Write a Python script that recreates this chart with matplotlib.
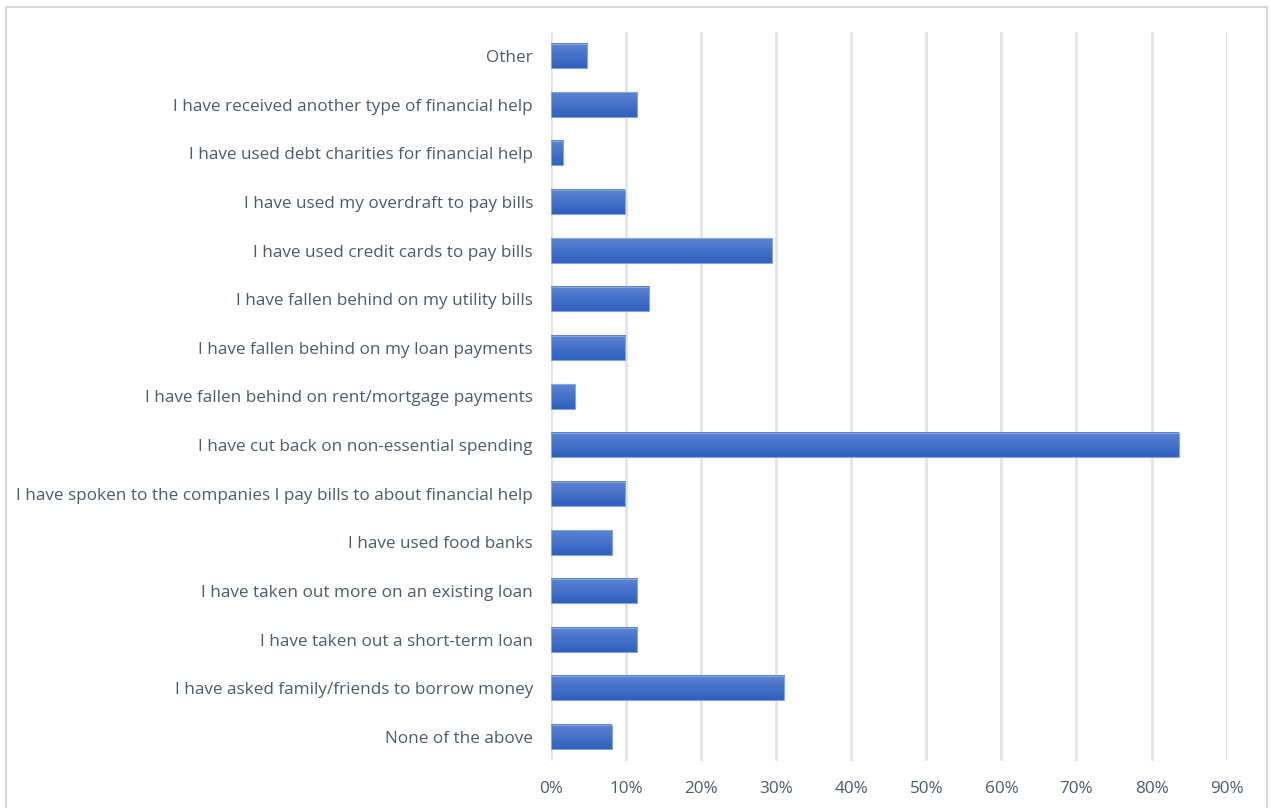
import numpy as np
import matplotlib.pyplot as plt
from matplotlib.patches import Rectangle
from matplotlib.colors import LinearSegmentedColormap
from matplotlib.ticker import PercentFormatter

categories = [
    "None of the above",
    "I have asked family/friends to borrow money",
    "I have taken out a short-term loan",
    "I have taken out more on an existing loan",
    "I have used food banks",
    "I have spoken to the companies I pay bills to about financial help",
    "I have cut back on non-essential spending",
    "I have fallen behind on rent/mortgage payments",
    "I have fallen behind on my loan payments",
    "I have fallen behind on my utility bills",
    "I have used credit cards to pay bills",
    "I have used my overdraft to pay bills",
    "I have used debt charities for financial help",
    "I have received another type of financial help",
    "Other",
]
shares = [0.081, 0.311, 0.115, 0.115, 0.081, 0.099, 0.836, 0.032, 0.099,
          0.131, 0.295, 0.098, 0.016, 0.115, 0.048]
ticks = np.arange(0, 1.0, 0.1)

text_col = "#4f5a6b"
plt.rcParams["font.family"] = ["Open Sans", "DejaVu Sans"]

fig = plt.figure(figsize=(12.71, 8.08), dpi=100)
ax = fig.add_axes([0.4335, 0.0578, 0.5316, 0.903])

# outer chart frame
fig.patches.append(Rectangle((6 / 1271, -0.05), 1261 / 1271, 1 - 7 / 808 + 0.05,
                             transform=fig.transFigure, fill=False,
                             edgecolor="#d9d9d9", linewidth=1.5))

y = np.arange(len(categories))
bar_h = 0.5
grad = LinearSegmentedColormap.from_list("g", ["#2f60bf", "#5c84d3"])
bars = ax.barh(y, shares, height=bar_h, color="none", edgecolor="#86a3dc",
               linewidth=0.8, zorder=3)
for b in bars:
    x0, y0 = b.get_x(), b.get_y()
    w, h = b.get_width(), b.get_height()
    ax.imshow(np.linspace(0, 1, 64).reshape(-1, 1), cmap=grad, aspect="auto",
              extent=(x0, x0 + w, y0, y0 + h), origin="lower", zorder=2,
              interpolation="bilinear")

ax.set_xlim(0, 0.9)
ax.set_ylim(-0.5, len(categories) - 0.5)
ax.set_xticks(ticks)
ax.xaxis.set_major_formatter(PercentFormatter(1.0, decimals=0))
ax.set_yticks(y)
ax.set_yticklabels(categories)
ax.tick_params(axis="both", length=0, labelsize=12.3, labelcolor=text_col)
ax.tick_params(axis="y", pad=13)
ax.tick_params(axis="x", pad=14)
ax.grid(axis="x", color="#e1e4ea", linewidth=2, zorder=0)
ax.set_axisbelow(True)
for s in ax.spines.values():
    s.set_visible(False)

fig.savefig("out.png", dpi=100)
